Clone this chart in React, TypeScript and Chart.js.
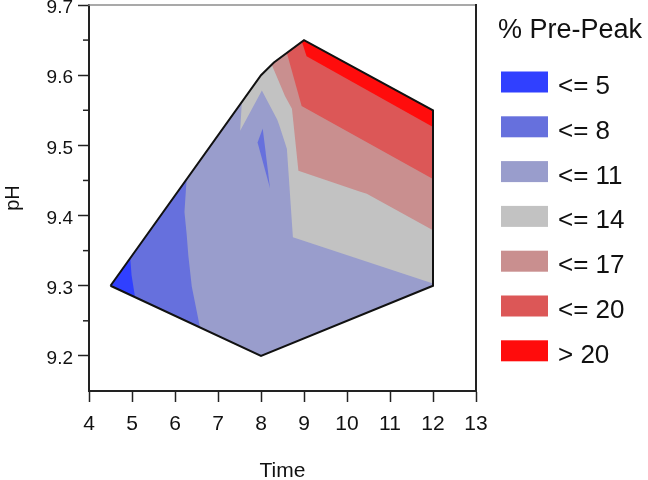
import React, { useEffect, useRef } from "react";
import { Chart, registerables } from "chart.js";

Chart.register(...registerables);

// ---- Legend / level data ----
const levelLabels = ["<= 5", "<= 8", "<= 11", "<= 14", "<= 17", "<= 20", "> 20"];
const levelColors = ["#3040ff", "#6670dd", "#999dcc", "#c2c2c2", "#c98f8f", "#dc5757", "#ff0c0c"];
const legendTitle = "% Pre-Peak";

// ---- Axis ranges / ticks ----
const timeMin = 4;
const timeMax = 13;
const timeStep = 1;
const phMin = 9.15;
const phMax = 9.7;
const phStep = 0.1;

// ---- Contour region boundaries (Time, pH) ----
// Convex hull of the measured design (whole coloured area)
const hullTime = [4.5, 8.0, 12.0, 12.0, 9.0, 8.3, 8.0];
const hullPH = [9.3, 9.2, 9.3, 9.55, 9.65, 9.618, 9.6];

// <= 5 corner
const le5Time = [4.5, 4.96, 4.99, 5.07];
const le5PH = [9.3, 9.339, 9.315, 9.284];

// <= 8 left band
const le8Time = [4.5, 6.27, 6.22, 6.27, 6.31, 6.39, 6.58];
const le8PH = [9.3, 9.452, 9.405, 9.374, 9.343, 9.299, 9.241];

// <= 8 small island
const le8IslandTime = [8.04, 7.92, 8.21, 8.07];
const le8IslandPH = [9.524, 9.504, 9.439, 9.509];

// > 11 region
const gt11Time = [7.555, 7.515, 8.02, 8.376, 8.423, 8.602, 8.742, 12.0, 12.0, 9.0, 8.3, 8.0];
const gt11PH = [9.562, 9.521, 9.578, 9.537, 9.529, 9.495, 9.369, 9.303, 9.55, 9.65, 9.618, 9.6];

// > 14 region
const gt14Time = [8.25, 8.56, 8.72, 8.87, 10.31, 10.46, 12.0, 12.0, 9.0, 8.3];
const gt14PH = [9.615, 9.57, 9.552, 9.464, 9.434, 9.431, 9.379, 9.55, 9.65, 9.618];

// > 17 region
const gt17Time = [8.6, 8.945, 12.0, 12.0, 9.0];
const gt17PH = [9.632, 9.556, 9.452, 9.55, 9.65];

// > 20 region
const gt20Time = [8.95, 9.06, 12.0, 12.0, 9.0];
const gt20PH = [9.648, 9.627, 9.526, 9.55, 9.65];

const FONT = "'Liberation Sans', Arial, Helvetica, sans-serif";

function closedPoints(xs: number[], ys: number[]) {
  const pts = xs.map((x, i) => ({ x, y: ys[i] }));
  pts.push({ x: xs[0], y: ys[0] });
  return pts;
}

function region(xs: number[], ys: number[], color: string, order: number) {
  return {
    data: closedPoints(xs, ys),
    backgroundColor: color,
    borderColor: "transparent",
    borderWidth: 0,
    fill: "shape",
    pointRadius: 0,
    tension: 0,
    order,
  };
}

const extrasPlugin = {
  id: "extras",
  afterDraw(chart: any) {
    const { ctx, chartArea: a, scales } = chart;
    ctx.save();
    // frame top & right
    ctx.lineCap = "square";
    ctx.strokeStyle = "#8c8c8c";
    ctx.lineWidth = 1.5;
    ctx.beginPath();
    ctx.moveTo(a.left, a.top);
    ctx.lineTo(a.right, a.top);
    ctx.stroke();
    ctx.strokeStyle = "#222";
    ctx.lineWidth = 2;
    ctx.beginPath();
    ctx.moveTo(a.right, a.top);
    ctx.lineTo(a.right, a.bottom);
    ctx.stroke();

    // minor ticks on pH axis
    const ys = scales.y;
    const t = ys.ticks;
    ctx.lineCap = "butt";
    ctx.lineWidth = 1.5;
    ctx.strokeStyle = "#222";
    for (let i = 0; i < t.length - 1; i++) {
      const v = (t[i].value + t[i + 1].value) / 2;
      const p = ys.getPixelForValue(v);
      ctx.beginPath();
      ctx.moveTo(a.left - 6, p);
      ctx.lineTo(a.left, p);
      ctx.stroke();
    }

    // legend
    ctx.fillStyle = "#111";
    ctx.textAlign = "left";
    ctx.textBaseline = "alphabetic";
    ctx.font = `27px ${FONT}`;
    ctx.fillText(legendTitle, 498, 38);
    ctx.font = `26px ${FONT}`;
    levelLabels.forEach((lab, i) => {
      const cy = 82 + i * 44.8;
      ctx.fillStyle = levelColors[i];
      ctx.fillRect(501, cy - 10.5, 47, 21);
      ctx.fillStyle = "#111";
      ctx.fillText(lab, 558, cy + 12);
    });
    ctx.restore();
  },
};

export default function App() {
  const ref = useRef<HTMLCanvasElement | null>(null);

  useEffect(() => {
    if (!ref.current) return;
    Chart.defaults.font.family = FONT;
    const datasets: any[] = [
      region(hullTime, hullPH, levelColors[2], 90),
      region(le8Time, le8PH, levelColors[1], 80),
      region(le5Time, le5PH, levelColors[0], 70),
      region(le8IslandTime, le8IslandPH, levelColors[1], 65),
      region(gt11Time, gt11PH, levelColors[3], 60),
      region(gt14Time, gt14PH, levelColors[4], 50),
      region(gt17Time, gt17PH, levelColors[5], 40),
      region(gt20Time, gt20PH, levelColors[6], 30),
      {
        data: closedPoints(hullTime, hullPH),
        borderColor: "#111",
        borderWidth: 2,
        fill: false,
        pointRadius: 0,
        tension: 0,
        order: 0,
      },
    ];
    const chart = new Chart(ref.current, {
      type: "line",
      data: { datasets },
      plugins: [extrasPlugin],
      options: {
        animation: false,
        responsive: false,
        devicePixelRatio: 1,
        events: [],
        layout: { padding: { top: 5, right: 172, left: 0, bottom: 0 } },
        plugins: { legend: { display: false }, tooltip: { enabled: false } },
        elements: { point: { radius: 0 }, line: { borderJoinStyle: "miter" } },
        scales: {
          x: {
            type: "linear",
            min: timeMin,
            max: timeMax,
            afterFit: (s: any) => {
              s.height = 89;
              s.paddingLeft = 0;
              s.paddingRight = 0;
            },
            ticks: {
              stepSize: timeStep,
              color: "#111",
              font: { size: 21 },
              padding: 10,
              maxRotation: 0,
            },
            grid: {
              display: true,
              drawOnChartArea: false,
              drawTicks: true,
              tickLength: 11,
              tickColor: "#222",
              tickWidth: 1.5,
            },
            border: { display: true, color: "#222", width: 2 },
            title: {
              display: true,
              text: "Time",
              color: "#111",
              font: { size: 21 },
              padding: { top: 0, bottom: -4 },
            },
          },
          y: {
            type: "linear",
            min: phMin,
            max: phMax,
            afterFit: (s: any) => {
              s.width = 89;
              s.paddingTop = 0;
              s.paddingBottom = 0;
            },
            ticks: {
              stepSize: phStep,
              includeBounds: false,
              color: "#111",
              font: { size: 19 },
              padding: 5,
              labelOffset: 3,
              callback: (v: any) => Number(v).toFixed(1),
            },
            grid: {
              display: true,
              drawOnChartArea: false,
              drawTicks: true,
              tickLength: 11,
              tickColor: "#222",
              tickWidth: 1.5,
            },
            border: { display: true, color: "#222", width: 2 },
            title: {
              display: true,
              text: "pH",
              color: "#111",
              font: { size: 20 },
              padding: { top: 1, bottom: 0 },
            },
          },
        },
      } as any,
    });
    return () => chart.destroy();
  }, []);

  return (
    <div style={{ position: "absolute", left: 0, top: 0, width: 648, height: 480, background: "#fff" }}>
      <canvas ref={ref} width={648} height={480} style={{ display: "block" }} />
    </div>
  );
}
